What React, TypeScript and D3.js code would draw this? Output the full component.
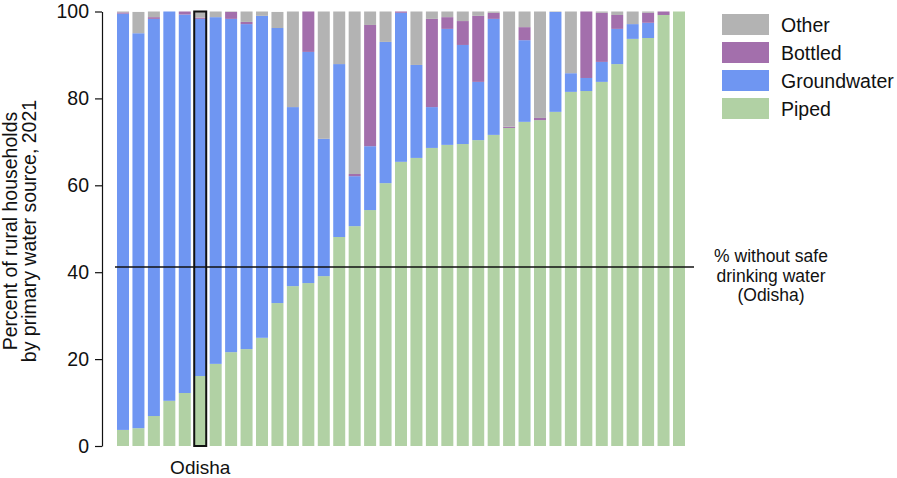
import React, { useRef, useEffect } from "react";
import * as d3 from "d3";

// Rural households by primary drinking water source, 2021 (one bar per state)
const piped = [3.7, 4.1, 6.9, 10.4, 12.2, 16.1, 18.9, 21.6, 22.3, 24.9, 32.9, 36.8, 37.5, 39.1, 48.1, 50.6, 54.3, 60.5, 65.4, 66.3, 68.6, 69.3, 69.5, 70.4, 71.6, 73.2, 74.6, 75.0, 76.9, 81.5, 81.7, 83.8, 87.9, 93.7, 93.9, 99.2, 100];
const groundwater = [95.8, 90.9, 91.4, 89.6, 87.1, 82.2, 79.8, 76.7, 74.8, 74.1, 63.3, 41.2, 53.2, 31.6, 39.8, 11.5, 14.7, 32.5, 34.3, 21.4, 9.4, 26.7, 22.8, 13.4, 26.7, 0, 18.8, 0, 23.0, 4.3, 3.0, 4.6, 8.1, 3.4, 3.5, 0, 0];
const bottled = [0.3, 0, 0.4, 0, 0.7, 0.3, 0, 1.6, 0.5, 0, 0, 0, 9.3, 0, 0, 0.5, 27.9, 0, 0.3, 0, 20.3, 2.7, 5.5, 15.2, 1.4, 0.3, 3.0, 0.5, 0, 0, 15.3, 11.3, 3.2, 0, 2.3, 0.8, 0];
const other = [0.2, 4.9, 1.3, 0, 0, 1.4, 1.3, 0.1, 2.4, 1.0, 3.7, 22.0, 0, 29.3, 12.1, 37.4, 3.1, 7.0, 0, 12.3, 1.7, 1.3, 2.2, 1.0, 0.3, 26.5, 3.6, 24.5, 0.1, 14.2, 0, 0.3, 0.8, 2.9, 0.3, 0, 0];

const odishaIndex = 5;
const odishaUnsafe = 41.2;
const yTicks = [0, 20, 40, 60, 80, 100];

const keys = ["piped", "groundwater", "bottled", "other"];
const legendLabels = ["Other", "Bottled", "Groundwater", "Piped"];
const noteLines = ["% without safe", "drinking water", "(Odisha)"];
const colors: Record<string, string> = {
  piped: "#b1d1a4",
  groundwater: "#6f96f2",
  bottled: "#a36fac",
  other: "#b3b3b3",
};

const FONT = "'Liberation Sans', Arial, Helvetica, sans-serif";

const App = () => {
  const svgRef = useRef<SVGSVGElement>(null);

  useEffect(() => {
    const svg = d3.select(svgRef.current);
    svg.selectAll("*").remove();
    const width = 897;
    const height = 478;
    svg.attr("width", width).attr("height", height);

    const rows = piped.map((p, i) => ({
      i,
      piped: p,
      groundwater: groundwater[i],
      bottled: bottled[i],
      other: other[i],
    }));

    const x = d3
      .scaleBand<number>()
      .domain(d3.range(piped.length))
      .range([117, 685])
      .paddingInner(0.223)
      .paddingOuter(0);

    const y = d3.scaleLinear().domain([0, 100]).range([446, 11.5]);

    const series = d3.stack<any>().keys(keys)(rows);

    // stacked bars
    svg
      .append("g")
      .selectAll("g")
      .data(series)
      .enter()
      .append("g")
      .attr("fill", (s) => colors[s.key])
      .selectAll("rect")
      .data((s) => s)
      .enter()
      .append("rect")
      .attr("x", (d: any) => x(d.data.i)!)
      .attr("y", (d) => y(d[1]))
      .attr("width", x.bandwidth())
      .attr("height", (d) => Math.max(0, y(d[0]) - y(d[1])));

    // Odisha outline
    svg
      .append("rect")
      .attr("x", x(odishaIndex)!)
      .attr("y", y(100))
      .attr("width", x.bandwidth())
      .attr("height", y(0) - y(100))
      .attr("fill", "none")
      .attr("stroke", "#111")
      .attr("stroke-width", 2);

    svg
      .append("text")
      .attr("x", x(odishaIndex)! + x.bandwidth() / 2)
      .attr("y", 474)
      .attr("text-anchor", "middle")
      .attr("font-family", FONT)
      .attr("font-size", 19)
      .attr("fill", "#111")
      .text("Odisha");

    // reference line
    svg
      .append("line")
      .attr("x1", 115)
      .attr("x2", 694)
      .attr("y1", y(odishaUnsafe))
      .attr("y2", y(odishaUnsafe))
      .attr("stroke", "#111")
      .attr("stroke-width", 1.6);

    const note = svg
      .append("text")
      .attr("text-anchor", "middle")
      .attr("font-family", FONT)
      .attr("font-size", 17.5)
      .attr("fill", "#111");
    noteLines.forEach((t, k) => {
      note
        .append("tspan")
        .attr("x", 771)
        .attr("y", 262 + k * 19.5)
        .text(t);
    });

    // y axis
    const axis = svg
      .append("g")
      .attr("transform", "translate(102,0)")
      .call(d3.axisLeft(y).tickValues(yTicks).tickSize(7).tickPadding(6).tickSizeOuter(0));
    axis.select(".domain").attr("stroke", "#111").attr("stroke-width", 1.2);
    axis.selectAll(".tick line").attr("stroke", "#111").attr("stroke-width", 1.2);
    axis
      .selectAll(".tick text")
      .attr("font-family", FONT)
      .attr("font-size", 19.5)
      .attr("fill", "#111");

    const ylab = svg
      .append("text")
      .attr("transform", "translate(0,231) rotate(-90)")
      .attr("text-anchor", "middle")
      .attr("font-family", FONT)
      .attr("font-size", 19.5)
      .attr("fill", "#111");
    ylab.append("tspan").attr("x", 0).attr("y", 17).text("Percent of rural households");
    ylab.append("tspan").attr("x", 0).attr("y", 36).text("by primary water source, 2021");

    // legend
    const legendKeys = ["other", "bottled", "groundwater", "piped"];
    const legend = svg
      .append("g")
      .selectAll("g")
      .data(legendKeys)
      .enter()
      .append("g")
      .attr("transform", (d, k) => `translate(722,${14 + k * 28})`);
    legend
      .append("rect")
      .attr("width", 47)
      .attr("height", 21)
      .attr("fill", (d) => colors[d]);
    legend
      .append("text")
      .attr("x", 59)
      .attr("y", 17.5)
      .attr("font-family", FONT)
      .attr("font-size", 19.5)
      .attr("fill", "#111")
      .text((d, k) => legendLabels[k]);
  }, []);

  return (
    <svg
      ref={svgRef}
      style={{ position: "absolute", left: 0, top: 0, display: "block" }}
    ></svg>
  );
};

export default App;
